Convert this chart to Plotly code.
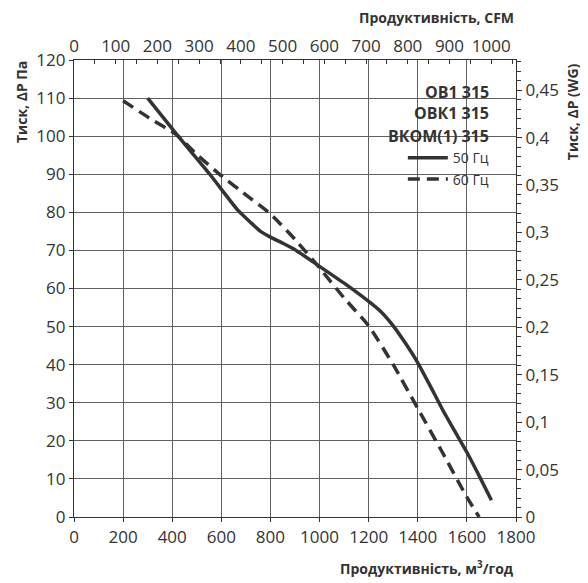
import plotly.graph_objects as go

# fan curve
flow_50 = [300, 424, 553, 668, 720, 760, 800, 850, 900, 1000, 1100, 1200, 1250, 1300, 1350, 1400,
           1450, 1500, 1550, 1600, 1650, 1700]
pres_50 = [110, 100, 90, 80.5, 77.3, 75, 73.5, 71.9, 70.2, 65.8, 61.4, 56.6, 53.9, 50.2, 45.6, 40.5,
           34.5, 28.3, 22.6, 17, 10.8, 4.4]

flow_60 = [200, 308, 417, 500, 600, 700, 800, 900, 1000, 1100, 1200, 1300, 1400, 1500, 1600, 1650]
pres_60 = [109.3, 104.7, 100.4, 95.2, 89.6, 84.6, 79.6, 72.9, 65.4, 57.5, 50.2, 40, 28.5, 17, 5.2, 0]

models = ["ОВ1 315", "ОВК1 315", "ВКОМ(1) 315"]

M3H_PER_CFM = 1.699
PA_PER_WG = 249.09

ink = "#333333"
grid = "#606060"
font = "Open Sans"

fig = go.Figure()
fig.add_trace(go.Scatter(x=flow_50, y=pres_50, mode="lines", name="50 Гц",
                         line=dict(color=ink, width=3.5, shape="spline", smoothing=0.5)))
fig.add_trace(go.Scatter(x=flow_60, y=pres_60, mode="lines", name="60 Гц",
                         line=dict(color=ink, width=3.5, dash="12px,7px", shape="spline", smoothing=0.5)))
# empty trace so the CFM / WG axes get drawn
fig.add_trace(go.Scatter(x=[None], y=[None], xaxis="x2", yaxis="y2", showlegend=False, hoverinfo="skip"))

# page body adds 8px on the left/top, so the figure is 8px smaller
fig.update_layout(
    width=580, height=575,
    margin=dict(l=66, r=72, t=52, b=66),
    paper_bgcolor="white", plot_bgcolor="white",
    font=dict(family=font, size=17, color=ink),
    separators=", ",
    showlegend=True,
    legend=dict(x=0.744, y=0.82, xanchor="left", yanchor="top", bgcolor="rgba(0,0,0,0)",
                font=dict(size=14, color=ink), tracegroupgap=0, itemwidth=40),
    xaxis=dict(range=[0, 1800], dtick=200, showgrid=True, gridcolor=grid, gridwidth=1,
               showline=True, linecolor=ink, linewidth=1.2, ticks="outside", ticklen=4,
               tickcolor=ink, zeroline=False),
    yaxis=dict(range=[0, 120], dtick=10, showgrid=True, gridcolor=grid, gridwidth=1,
               showline=True, linecolor=ink, linewidth=1.2, ticks="outside", ticklen=4,
               tickcolor=ink, zeroline=False),
    xaxis2=dict(overlaying="x", side="top", range=[0, 1800 / M3H_PER_CFM], dtick=100,
                showgrid=False, showline=True, linecolor=ink, linewidth=1.2,
                ticks="inside", ticklen=4, tickcolor=ink, zeroline=False,
                minor=dict(dtick=50, ticks="inside", ticklen=4, tickcolor=ink)),
    yaxis2=dict(overlaying="y", side="right", range=[0, 120 / PA_PER_WG], dtick=0.05,
                showgrid=False, showline=True, linecolor=ink, linewidth=1.2,
                ticks="outside", ticklen=5, tickcolor=ink, zeroline=False,
                minor=dict(dtick=0.01, ticks="outside", ticklen=4, tickcolor=ink)),
)

# white box behind the model names and legend
fig.add_shape(type="rect", xref="paper", yref="paper", x0=0.672, x1=0.955, y0=0.715, y1=0.965,
              fillcolor="white", line=dict(width=0), layer="below")

for i, m in enumerate(models):
    fig.add_annotation(text="<b>%s</b>" % m, xref="paper", yref="paper", x=0.943,
                       y=[0.930, 0.884, 0.834][i], xanchor="right", yanchor="middle",
                       showarrow=False, font=dict(size=16, color=ink))

fig.add_annotation(text="<b>Продуктивність, CFM</b>", xref="paper", yref="paper", x=1.0, y=1.094,
                   xanchor="right", yanchor="middle", showarrow=False, font=dict(size=14, color=ink))
fig.add_annotation(text="<b>Продуктивність, м<sup>3</sup>/год</b>", xref="paper", yref="paper",
                   x=1.0, y=-0.111, xanchor="right", yanchor="middle", showarrow=False,
                   font=dict(size=14, color=ink))
fig.add_annotation(text="<b>Тиск, ΔР Па</b>", xref="paper", yref="paper", x=-0.12, y=0.908,
                   xanchor="center", yanchor="middle", textangle=-90, showarrow=False,
                   font=dict(size=14, color=ink))
fig.add_annotation(text="<b>Тиск, ΔР (WG)</b>", xref="paper", yref="paper", x=1.127, y=0.886,
                   xanchor="center", yanchor="middle", textangle=-90, showarrow=False,
                   font=dict(size=14, color=ink))

fig.write_html("out.html")
